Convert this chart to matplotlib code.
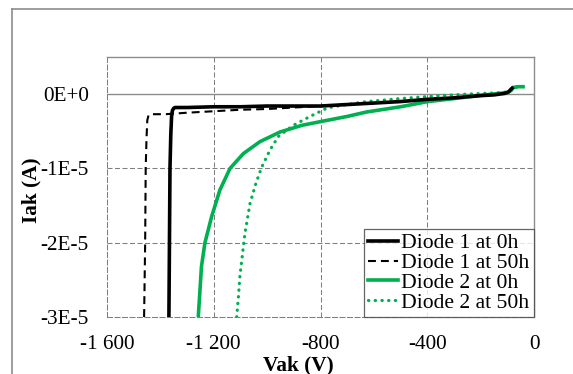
import numpy as np
import matplotlib
matplotlib.use("Agg")
import matplotlib.pyplot as plt
from matplotlib.lines import Line2D

plt.rcParams['font.family'] = ['Liberation Serif', 'DejaVu Serif']

# Diode 1 at 0h  (V, I in 1E-5 A)
v_d1_0h = [-1368, -1366, -1364, -1361, -1358, -1355, -1350, -1345, -1300, -1200, -1100, -1000,
           -900, -800, -700, -600, -500, -400, -300, -200, -150, -110, -95, -88, -82]
i_d1_0h = [-3.0, -2.0, -1.0, -0.55, -0.30, -0.22, -0.19, -0.18, -0.18, -0.17, -0.17, -0.16,
           -0.16, -0.16, -0.14, -0.12, -0.10, -0.07, -0.05, -0.02, -0.01, 0.01, 0.03, 0.06, 0.08]

# Diode 1 at 50h
v_d1_50h = [-1461, -1459, -1457, -1455, -1452, -1449, -1444, -1430, -1380, -1340, -1300, -1250,
            -1200, -1100, -1000, -900, -800, -700, -600, -500, -400, -300, -200, -150, -110,
            -95, -88, -82]
i_d1_50h = [-3.0, -2.5, -2.0, -1.0, -0.6, -0.35, -0.28, -0.27, -0.27, -0.26, -0.25, -0.24,
            -0.23, -0.21, -0.20, -0.18, -0.16, -0.14, -0.12, -0.10, -0.07, -0.05, -0.02, -0.01,
            0.01, 0.03, 0.06, 0.08]

# Diode 2 at 0h
v_d2_0h = [-1258, -1246, -1233, -1208, -1177, -1139, -1089, -1027, -952, -870, -800, -700,
           -627, -500, -398, -300, -191, -102, -85, -78, -60, -41]
i_d2_0h = [-3.0, -2.32, -2.0, -1.65, -1.29, -1.0, -0.80, -0.64, -0.51, -0.42, -0.37, -0.30,
           -0.24, -0.17, -0.10, -0.06, -0.013, 0.02, 0.05, 0.09, 0.10, 0.10]

# Diode 2 at 50h
v_d2_50h = [-1114, -1108, -1102, -1083, -1064, -1042, -1020, -989, -958, -902, -839, -777,
            -753, -700, -627, -502, -378, -253, -127, -100, -85, -78, -60, -41]
i_d2_50h = [-3.0, -2.75, -2.45, -1.87, -1.47, -1.20, -0.98, -0.75, -0.57, -0.42, -0.30, -0.19,
            -0.17, -0.14, -0.10, -0.06, -0.027, 0.0, 0.02, 0.03, 0.06, 0.09, 0.10, 0.10]

x_ticks = [-1600, -1200, -800, -400, 0]
x_tick_labels = ['-1 600', '-1 200', '-800', '-400', '0']
y_ticks = [0, -1e-5, -2e-5, -3e-5]
y_tick_labels = ['0E+0', '-1E-5', '-2E-5', '-3E-5']

green = '#00B050'
fs = 15.3

fig = plt.figure(figsize=(5.73, 3.74), dpi=100)
ax = fig.add_axes([107 / 573, 57 / 374, 427 / 573, 260 / 374])

# chart border
fig.add_artist(Line2D([12 / 573, 12 / 573], [0, 1 - 9 / 374], transform=fig.transFigure,
                      color='#8c8c8c', lw=1.2))
fig.add_artist(Line2D([12 / 573, 1], [1 - 9 / 374, 1 - 9 / 374], transform=fig.transFigure,
                      color='#8c8c8c', lw=1.2))

scale = 1e-5
ax.plot(v_d1_0h, np.array(i_d1_0h) * scale, color='black', lw=2.6, label='Diode 1 at 0h',
        zorder=4)
ax.plot(v_d1_50h, np.array(i_d1_50h) * scale, color='black', lw=1.5,
        linestyle=(0, (3.8, 2.4)), label='Diode 1 at 50h', zorder=4)
ax.plot(v_d2_0h, np.array(i_d2_0h) * scale, color=green, lw=2.6, label='Diode 2 at 0h',
        zorder=3)
ax.plot(v_d2_50h, np.array(i_d2_50h) * scale, color=green, lw=2.3,
        linestyle=(0, (0.1, 2.0)), dash_capstyle='round', label='Diode 2 at 50h', zorder=3)

ax.set_xlim(-1600, 0)
ax.set_ylim(-3e-5, 0.5e-5)

# grid
grid_style = dict(color='#7f7f7f', lw=0.75, linestyle=(0, (4.8, 2.4)), zorder=1)
for xv in x_ticks[1:-1]:
    ax.axvline(xv, **grid_style)
for yv in y_ticks[1:-1]:
    ax.axhline(yv, **grid_style)
ax.axhline(0, color='#8c8c8c', lw=1.0, zorder=1)

for side in ['left', 'bottom']:
    ax.spines[side].set_color('#7f7f7f')
    ax.spines[side].set_linestyle((0, (4.8, 2.4)))
    ax.spines[side].set_linewidth(0.75)
for side in ['top', 'right']:
    ax.spines[side].set_color('#8c8c8c')
    ax.spines[side].set_linewidth(1.0)

ax.set_xticks(x_ticks)
ax.set_xticklabels(x_tick_labels, fontsize=fs)
ax.set_yticks(y_ticks)
ax.set_yticklabels(y_tick_labels, fontsize=fs)
ax.tick_params(axis='both', length=0)
ax.tick_params(axis='y', pad=13)
ax.tick_params(axis='x', pad=13)

ax.set_xlabel('Vak (V)', fontsize=fs, fontweight='bold')
ax.xaxis.label.set_va('center')
ax.xaxis.set_label_coords(0.447, -0.185)
ax.set_ylabel('Iak (A)', fontsize=fs, fontweight='bold')
ax.yaxis.label.set_va('center')
ax.yaxis.set_label_coords(-0.178, 0.488)

leg = ax.legend(loc='lower right', fontsize=15.6, frameon=True, fancybox=False,
                borderaxespad=0, handlelength=1.4, handletextpad=0.15,
                labelspacing=-0.02, borderpad=0.2)
leg.get_frame().set_edgecolor('#404040')
leg.get_frame().set_linewidth(0.9)
leg.set_zorder(5)

fig.savefig('out.png', dpi=100)
